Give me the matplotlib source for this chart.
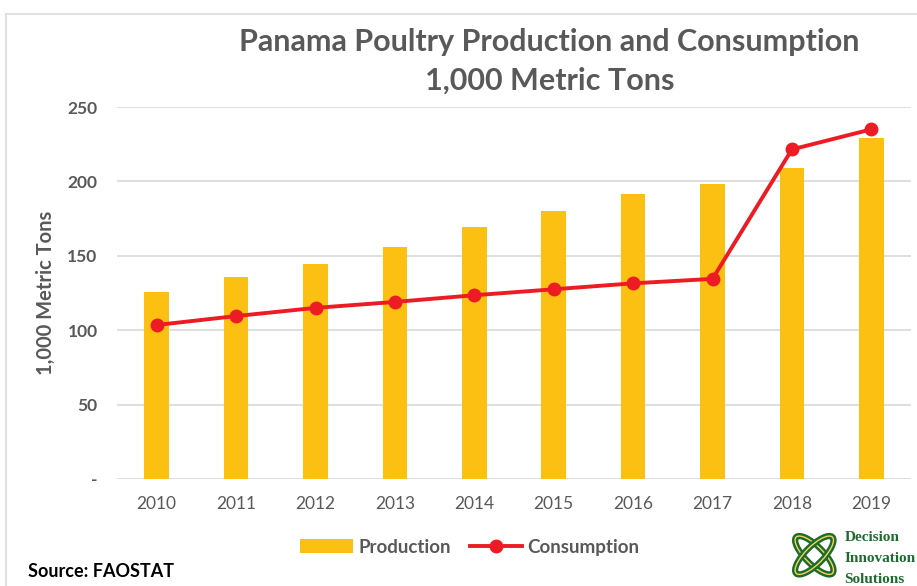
import matplotlib
matplotlib.use("Agg")
import matplotlib.pyplot as plt
from matplotlib.patches import Rectangle, Ellipse

years = ["2010", "2011", "2012", "2013", "2014", "2015", "2016", "2017", "2018", "2019"]
production = [125.5, 135.5, 144.5, 156, 169.5, 180, 191.5, 198, 209, 229.5]
consumption = [103.5, 109.5, 115, 119, 123.5, 127.5, 131.5, 134.5, 221.5, 235]
yticks = [0, 50, 100, 150, 200, 250]
ytick_labels = ["-", "50", "100", "150", "200", "250"]

GREY = "#595959"
plt.rcParams["font.family"] = ["Lato", "DejaVu Sans"]

fig = plt.figure(figsize=(9.17, 5.86), dpi=100)
ax = fig.add_axes([0.1276, 0.1826, 0.8659, 0.6348])

x = list(range(len(years)))
bars = ax.bar(x, production, width=0.31, color="#FBC012", label="Production", zorder=2)
line, = ax.plot(x, consumption, color="#ED1C24", linewidth=2.8, marker="o",
                markersize=9, label="Consumption", zorder=3)

ax.set_xlim(-0.5, len(years) - 0.5)
ax.set_ylim(0, 250)
ax.set_xticks(x)
ax.set_xticklabels(years, fontsize=12.5, color=GREY)
ax.set_yticks(yticks)
ax.set_yticklabels(ytick_labels, fontsize=12.5, color=GREY, fontweight="bold")
ax.tick_params(length=0, pad=12)
ax.tick_params(axis="y", pad=14)
ax.grid(axis="y", color="#D9D9D9", linewidth=1.2, zorder=0)
for s in ax.spines.values():
    s.set_visible(False)
ax.set_ylabel("1,000 Metric Tons", fontsize=14.5, color=GREY, fontweight="bold", labelpad=8)

fig.text(0.599, 0.928, "Panama Poultry Production and Consumption", ha="center", va="center",
         fontsize=22, fontweight="bold", color=GREY)
fig.text(0.599, 0.863, "1,000 Metric Tons", ha="center", va="center",
         fontsize=22, fontweight="bold", color=GREY)

ax.legend([bars, line], ["Production", "Consumption"], loc="center",
          bbox_to_anchor=(0.4445, -0.183), ncol=2, frameon=False,
          prop={"size": 13.5, "weight": "bold"}, labelcolor=GREY, handlelength=2.8,
          columnspacing=1.0, handletextpad=0.3)

fig.text(0.03, 0.015, "Source: FAOSTAT", fontsize=13, fontweight="bold", color="black")

# outer chart frame
fig.add_artist(Rectangle((0.006, -0.05), 1.1, 1.026, transform=fig.transFigure,
                         fill=False, edgecolor="#E0E0E0", linewidth=1.5))

# logo: simple knot + text
lax = fig.add_axes([0.858, 0.0, 0.06, 0.105])
lax.set_xlim(-1, 1)
lax.set_ylim(-1.2, 1.2)
lax.set_aspect("equal")
lax.axis("off")
for ang in (45, -45):
    lax.add_patch(Ellipse((0, 0), 0.7, 2.0, angle=ang, fill=False,
                          edgecolor="#1E6B2E", linewidth=4.5))
    lax.add_patch(Ellipse((0, 0), 0.7, 2.0, angle=ang, fill=False,
                          edgecolor="#F2D45C", linewidth=1))
for i, word in enumerate(["Decision", "Innovation", "Solutions"]):
    fig.text(0.921, 0.083 - i * 0.036, word, fontsize=11, fontweight="bold",
             color="#1E6B2E", family=["Liberation Serif", "DejaVu Serif"], va="center")

fig.savefig("out.png", dpi=100)
